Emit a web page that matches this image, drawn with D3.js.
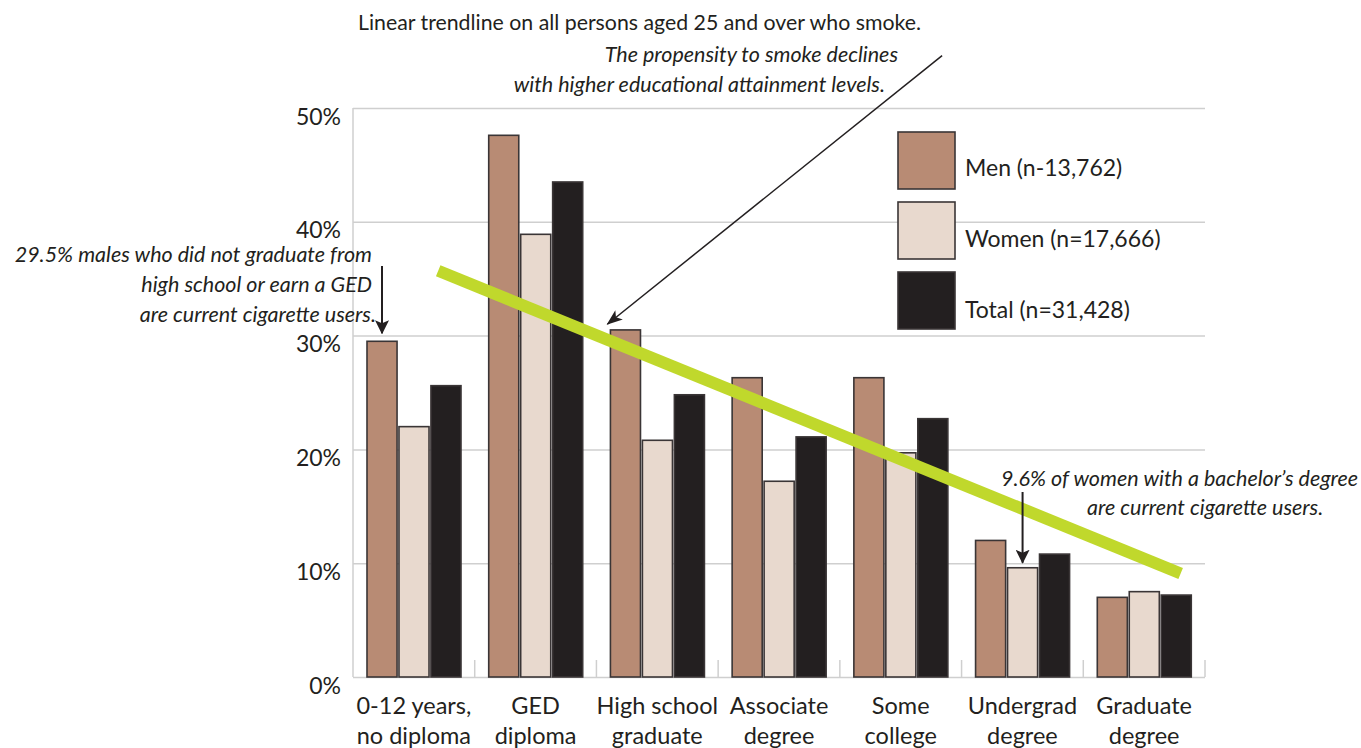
<!DOCTYPE html>
<html>
<head>
<meta charset="utf-8">
<script src="https://cdn.jsdelivr.net/npm/d3@7"></script>
<style>
  body { margin: 0; background: #fff; }
  svg { display: block; }
  text { font-family: Lato, 'Open Sans', sans-serif; fill: #231f20; }
</style>
</head>
<body>
<svg id="chart" width="1361" height="748"></svg>
<script>
// data (percent of persons aged 25+ who smoke)
const CATEGORIES = ['0-12 years, no diploma', 'GED diploma', 'High school graduate',
  'Associate degree', 'Some college', 'Undergrad degree', 'Graduate degree'];
const LABEL_LINES = [['0-12 years,', 'no diploma'], ['GED', 'diploma'], ['High school', 'graduate'],
  ['Associate', 'degree'], ['Some', 'college'], ['Undergrad', 'degree'], ['Graduate', 'degree']];
const SERIES = ['Men (n-13,762)', 'Women (n=17,666)', 'Total (n=31,428)'];
const MEN = [29.5, 47.6, 30.5, 26.3, 26.3, 12.0, 7.0];
const WOMEN = [22.0, 38.9, 20.8, 17.2, 19.7, 9.6, 7.5];
const TOTAL = [25.6, 43.5, 24.8, 21.1, 22.7, 10.8, 7.2];
const Y_TICKS = [0, 10, 20, 30, 40, 50];
// trendline end points: category position (0 = first group centre) and percent
const TREND = [{ pos: 0.2, value: 35.7 }, { pos: 6.3, value: 9.1 }];

const COLORS = ['#b88b74', '#e8d9ce', '#231f20'];

const SVG = d3.select('#chart');
const LEFT = 353, RIGHT = 1205, TOP = 108, BOTTOM = 677;

const rows = CATEGORIES.map((c, i) => ({ cat: c, values: [MEN[i], WOMEN[i], TOTAL[i]] }));

const X0 = d3.scaleBand().domain(CATEGORIES).range([LEFT, RIGHT]).padding(0);
const X1 = d3.scaleBand().domain(SERIES).range([14, 108]).paddingInner(0.06);
const X_POS = d3.scaleLinear().domain([-0.5, CATEGORIES.length - 0.5]).range([LEFT, RIGHT]);
const Y = d3.scaleLinear().domain([0, 50]).range([BOTTOM, TOP]);

// markers
const defs = SVG.append('defs');
defs.append('marker')
  .attr('id', 'arrowBig')
  .attr('viewBox', '0 0 16 12')
  .attr('refX', 15).attr('refY', 6)
  .attr('markerWidth', 16).attr('markerHeight', 12)
  .attr('markerUnits', 'userSpaceOnUse')
  .attr('orient', 'auto')
  .append('path')
  .attr('d', 'M0,0 L16,6 L0,12 L4,6 Z')
  .attr('fill', '#231f20');
defs.append('marker')
  .attr('id', 'arrowDown')
  .attr('viewBox', '0 0 14 14')
  .attr('refX', 13).attr('refY', 7)
  .attr('markerWidth', 14).attr('markerHeight', 14)
  .attr('markerUnits', 'userSpaceOnUse')
  .attr('orient', 'auto')
  .append('path')
  .attr('d', 'M0,0 L14,7 L0,14 L3,7 Z')
  .attr('fill', '#231f20');

// grid
const Y_AXIS = d3.axisLeft(Y).tickValues(Y_TICKS).tickSize(-(RIGHT - LEFT)).tickFormat(d => d + '%');
const Y_AXIS_G = SVG.append('g')
  .attr('id', 'yAxis')
  .attr('transform', `translate(${LEFT},0)`);
Y_AXIS(Y_AXIS_G);
Y_AXIS_G.select('.domain').remove();
Y_AXIS_G.selectAll('line').style('stroke', '#cfcfcf').style('stroke-width', 1.5);
Y_AXIS_G.selectAll('text')
  .attr('x', -12)
  .attr('dy', '0.7em')
  .style('font-size', '23px')
  .style('font-family', 'Lato, sans-serif')
  .style('fill', '#231f20');

SVG.append('line')
  .attr('x1', LEFT).attr('x2', LEFT)
  .attr('y1', Y(50)).attr('y2', Y(0))
  .style('stroke', '#cfcfcf').style('stroke-width', 1.5);

// separators at bottom
SVG.append('g').selectAll('line')
  .data(CATEGORIES.slice(1).map(c => X0(c)).concat([RIGHT]))
  .join('line')
  .attr('x1', d => d).attr('x2', d => d)
  .attr('y1', BOTTOM - 17).attr('y2', BOTTOM)
  .style('stroke', '#cfcfcf').style('stroke-width', 1.5);

// bars
SVG.append('g')
  .attr('id', 'bars')
  .selectAll('g')
  .data(rows)
  .join('g')
  .attr('transform', d => `translate(${X0(d.cat)},0)`)
  .selectAll('rect')
  .data(d => d.values.map((v, j) => ({ s: SERIES[j], v, j })))
  .join('rect')
  .attr('x', d => X1(d.s))
  .attr('width', X1.bandwidth())
  .attr('y', d => Y(d.v))
  .attr('height', d => Y(0) - Y(d.v))
  .style('fill', d => COLORS[d.j])
  .style('stroke', '#3a3536')
  .style('stroke-width', 1.6);

// x labels
const xl = SVG.append('g').attr('id', 'xLabels');
LABEL_LINES.forEach((lines, i) => {
  const cx = X0(CATEGORIES[i]) + X0.bandwidth() / 2;
  const t = xl.append('text')
    .attr('x', cx)
    .attr('y', 714)
    .style('text-anchor', 'middle')
    .style('font-size', '23.5px');
  lines.forEach((l, k) => {
    t.append('tspan')
      .attr('x', cx)
      .attr('dy', k === 0 ? 0 : 30)
      .text(l);
  });
});

// trendline
SVG.append('line')
  .attr('x1', X_POS(TREND[0].pos)).attr('y1', Y(TREND[0].value))
  .attr('x2', X_POS(TREND[1].pos)).attr('y2', Y(TREND[1].value))
  .style('stroke', '#c0d82c')
  .style('stroke-width', 12);

// legend
const lg = SVG.append('g').attr('id', 'legend');
SERIES.forEach((s, i) => {
  lg.append('rect')
    .attr('x', 898).attr('y', 132 + i * 70)
    .attr('width', 57).attr('height', 57)
    .style('fill', COLORS[i])
    .style('stroke', '#3a3536')
    .style('stroke-width', 1.6);
  lg.append('text')
    .attr('x', 965).attr('y', 176 + i * 71)
    .style('font-size', '23px')
    .text(s);
});

// annotations
SVG.append('text')
  .attr('x', 358).attr('y', 30)
  .style('font-size', '21.3px')
  .text('Linear trendline on all persons aged 25 and over who smoke.');
SVG.append('text')
  .attr('x', 898).attr('y', 62)
  .style('text-anchor', 'end')
  .style('font-size', '21.5px').style('font-style', 'italic')
  .text('The propensity to smoke declines');
SVG.append('text')
  .attr('x', 885).attr('y', 92)
  .style('text-anchor', 'end')
  .style('font-size', '21.5px').style('font-style', 'italic')
  .text('with higher educational attainment levels.');
SVG.append('line')
  .attr('x1', X_POS(4.34)).attr('y1', Y(54.6))
  .attr('x2', X_POS(1.59)).attr('y2', Y(31.0))
  .style('stroke', '#231f20').style('stroke-width', 1.5)
  .attr('marker-end', 'url(#arrowBig)');

const leftNote = ['29.5% males who did not graduate from', 'high school or earn a GED', 'are current cigarette users.'];
leftNote.forEach((l, i) => {
  SVG.append('text')
    .attr('x', i === 2 ? 376 : 372).attr('y', 262 + i * 30)
    .style('text-anchor', 'end')
    .style('font-size', '21.5px').style('font-style', 'italic')
    .text(l);
});
const menBarX = X0(CATEGORIES[0]) + X1(SERIES[0]) + X1.bandwidth() / 2;
SVG.append('line')
  .attr('x1', menBarX).attr('x2', menBarX)
  .attr('y1', 266).attr('y2', Y(MEN[0]) - 8)
  .style('stroke', '#231f20').style('stroke-width', 2)
  .attr('marker-end', 'url(#arrowDown)');

SVG.append('text')
  .attr('x', 1001).attr('y', 486)
  .style('font-size', '21.5px').style('font-style', 'italic')
  .text('9.6% of women with a bachelor\u2019s degree');
SVG.append('text')
  .attr('x', 1087).attr('y', 515)
  .style('font-size', '21.5px').style('font-style', 'italic')
  .text('are current cigarette users.');
const womenBarX = X0(CATEGORIES[5]) + X1(SERIES[1]) + X1.bandwidth() / 2;
SVG.append('line')
  .attr('x1', womenBarX).attr('x2', womenBarX)
  .attr('y1', 492).attr('y2', Y(WOMEN[5]) - 5)
  .style('stroke', '#231f20').style('stroke-width', 2)
  .attr('marker-end', 'url(#arrowDown)');
</script>
</body>
</html>
